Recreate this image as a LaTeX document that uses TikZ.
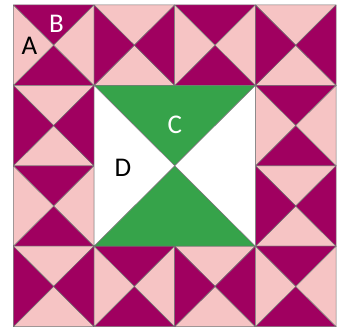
\documentclass[tikz,border=0pt]{standalone}
\usepackage{fontspec}
\setmainfont{Carlito}
\definecolor{plum}{RGB}{160,0,96}
\definecolor{blush}{RGB}{246,196,196}
\definecolor{leaf}{RGB}{54,163,74}

\begin{document}
\begin{tikzpicture}[x=1pt,y=1pt,
 patch/.style={draw=black!55,line width=0.5pt,line join=round},
 lbl/.style={font=\fontsize{27}{27}\selectfont,inner sep=0pt}]
\useasboundingbox (0,0) rectangle (343,329);
% ring of hourglass blocks
\foreach \i/\j in {0/0,1/0,2/0,3/0,0/1,3/1,0/2,3/2,0/3,1/3,2/3,3/3}{
 \pgfmathsetmacro{\xa}{13.3+\i*80.7}
 \pgfmathsetmacro{\ya}{324-(\j+1)*80.4}
 \pgfmathtruncatemacro{\odd}{mod(\i+\j,2)}
 \ifnum\odd=0 \def\vcol{plum}\def\hcol{blush}\else\def\vcol{blush}\def\hcol{plum}\fi
 \begin{scope}[shift={(\xa,\ya)}]
  \coordinate (m) at (40.35,40.2);
  \filldraw[patch,fill=\vcol] (0,80.4)--(80.7,80.4)--(m)--cycle;
  \filldraw[patch,fill=\vcol] (0,0)--(80.7,0)--(m)--cycle;
  \filldraw[patch,fill=\hcol] (0,0)--(0,80.4)--(m)--cycle;
  \filldraw[patch,fill=\hcol] (80.7,0)--(80.7,80.4)--(m)--cycle;
 \end{scope}
}
% big centre block
\coordinate (sw) at (94,82.8);
\coordinate (se) at (255.4,82.8);
\coordinate (ne) at (255.4,243.6);
\coordinate (nw) at (94,243.6);
\coordinate (mid) at (174.7,163.2);
\filldraw[patch,fill=leaf] (nw)--(ne)--(mid)--cycle;
\filldraw[patch,fill=leaf] (sw)--(se)--(mid)--cycle;
\filldraw[patch,fill=white] (sw)--(nw)--(mid)--cycle;
\filldraw[patch,fill=white] (se)--(ne)--(mid)--cycle;
% labels
\node[lbl] (a) at (29.5,283) {A};
\node[lbl,text=white] (b) at (56.5,305) {B};
\node[lbl,text=white] (c) at (174.7,203.7) {C};
\node[lbl] (d) at (123,160.7) {D};
\end{tikzpicture}
\end{document}
